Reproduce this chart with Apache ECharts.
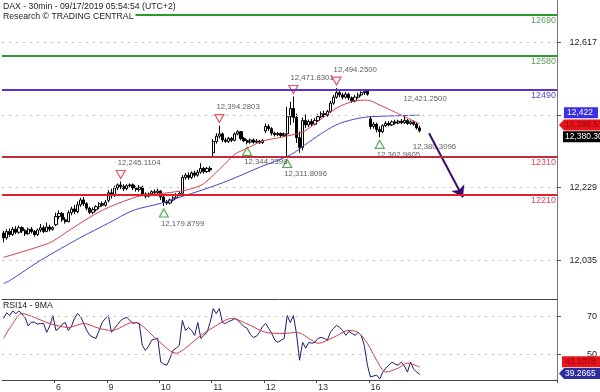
<!DOCTYPE html>
<html><head><meta charset="utf-8">
<script src="https://cdn.jsdelivr.net/npm/echarts@6/dist/echarts.min.js"></script>
<style>html,body{margin:0;padding:0;background:#fff}#c{width:600px;height:392px}</style>
</head><body><div id="c"></div>
<script>
const days = ['5','6','9','10','11','12','13','16'];
const futureDays = ['17','18','19'];
const barsPerDay = 17;
const totalSlots = 180;

// [open, close, low, high]
const candles = [
[12108,12095,12083,12114],[12095,12112,12090,12118],[12112,12104,12098,12120],[12104,12118,12100,12124],[12118,12110,12105,12126],[12110,12122,12106,12128],[12122,12114,12108,12126],[12114,12106,12100,12118],[12106,12118,12103,12122],[12118,12112,12107,12124],[12112,12104,12098,12116],[12104,12116,12100,12120],[12116,12122,12110,12132],[12122,12112,12108,12128],[12112,12124,12110,12136],[12124,12118,12112,12130],[12118,12122,12114,12126],
[12130,12152,12126,12162],[12152,12160,12145,12168],[12160,12143,12138,12164],[12143,12138,12133,12150],[12138,12162,12136,12168],[12162,12172,12155,12178],[12172,12165,12158,12182],[12165,12183,12160,12192],[12183,12196,12178,12202],[12196,12186,12180,12204],[12186,12174,12168,12190],[12174,12163,12158,12178],[12163,12170,12158,12176],[12170,12178,12165,12182],[12178,12186,12172,12190],[12186,12182,12178,12192],[12182,12190,12178,12196],
[12195,12215,12190,12222],[12215,12208,12200,12226],[12208,12228,12204,12234],[12228,12236,12222,12240],[12236,12232,12225,12245.1104],[12232,12226,12220,12238],[12226,12234,12222,12238],[12234,12236,12228,12240],[12236,12228,12222,12240],[12228,12224,12218,12232],[12224,12230,12218,12236],[12230,12212,12206,12234],[12212,12206,12200,12216],[12206,12212,12203,12216],[12212,12218,12208,12222],[12218,12216,12212,12224],[12216,12220,12212,12226],
[12220,12204,12196,12222],[12204,12190,12179.8799,12208],[12190,12188,12183,12196],[12188,12196,12184,12200],[12196,12202,12192,12206],[12202,12210,12198,12214],[12210,12214,12206,12218],[12214,12256,12212,12262],[12256,12262,12250,12268],[12262,12256,12250,12270],[12256,12268,12252,12272],[12268,12262,12256,12274],[12262,12270,12258,12276],[12270,12280,12266,12294],[12280,12272,12266,12284],[12272,12280,12268,12284],[12280,12276,12270,12286],
[12322,12352,12312,12358],[12352,12366,12346,12374],[12366,12372,12360,12394.2803],[12372,12356,12350,12376],[12356,12352,12348,12362],[12352,12360,12348,12364],[12360,12355,12350,12364],[12355,12372,12352,12376],[12372,12378,12368,12382],[12378,12360,12355,12380],[12360,12354,12350,12364],[12354,12350,12344.2398,12358],[12350,12356,12346,12360],[12356,12350,12346,12360],[12350,12353,12347,12358],[12353,12349,12345,12356],[12349,12354,12345,12358],
[12380,12392,12374,12400],[12392,12386,12380,12398],[12386,12374,12368,12390],[12374,12370,12365,12378],[12370,12373,12366,12377],[12373,12368,12363,12376],[12368,12372,12364,12376],[12372,12418,12311.8096,12444],[12418,12440,12396,12458],[12440,12416,12402,12471.8301],[12416,12362,12348,12426],[12362,12336,12322,12378],[12336,12408,12328,12416],[12408,12396,12388,12424],[12396,12405,12390,12410],[12405,12398,12393,12412],[12398,12408,12395,12414],
[12408,12418,12404,12424],[12418,12426,12414,12432],[12426,12422,12416,12434],[12422,12432,12418,12436],[12432,12454,12428,12460],[12454,12470,12450,12476],[12470,12482,12466,12494.25],[12482,12476,12470,12488],[12476,12470,12464,12482],[12470,12478,12466,12484],[12478,12468,12462,12482],[12468,12460,12455,12472],[12460,12470,12456,12476],[12470,12476,12466,12482],[12476,12482,12472,12486],[12482,12486,12476,12490],[12486,12478,12474,12490],
[12412,12392,12384,12420],[12392,12398,12386,12404],[12398,12384,12376,12402],[12384,12378,12362.9805,12392],[12378,12394,12374,12398],[12394,12400,12390,12406],[12400,12396,12392,12406],[12396,12404,12393,12408],[12404,12401,12397,12410],[12401,12406,12398,12410],[12406,12402,12398,12412],[12402,12408,12399,12421.25],[12408,12400,12396,12412],[12400,12404,12396,12408],[12404,12398,12394,12408],[12398,12388,12384,12402],[12388,12380.3096,12376,12394]
];

const fastMA = [[0,12043],[15,12082],[20,12108],[28,12150],[34,12176],[44,12206],[52,12214],[59,12222],[64,12235],[67,12254],[73,12302],[75,12318],[79,12334],[84,12353],[90,12363],[97,12377],[100,12393],[108,12441],[114,12460],[118,12462],[122,12449],[127,12430],[135,12398.5]];
const slowMA = [[0,11973],[2,11981],[12,12035],[25,12096],[34,12134],[42,12168],[51,12187],[57,12203],[65,12224],[73,12248],[83,12283],[93,12316],[99,12350],[104,12378],[109,12400],[116,12415],[122,12419],[135,12422]];

const rsi = [69,72,70.5,73,71.5,73,71,69.5,65,67,67,66,66.3,66.3,61.6,65,70.5,
62.6,63.7,65.8,66.8,62.6,64.7,69,71.6,70,66.3,62.6,60,59,58.4,62.6,66.8,69,
70.5,61.6,63.7,65.8,67.9,69,69.5,67.9,66.3,66.8,66.3,54.7,52,54.2,57.4,58,58.4,
45.8,44.7,44.2,47.9,52.1,53.2,54.7,67.9,62.6,64.2,62.6,60,66.8,58.4,60,61.6,66.8,
74.2,71.6,74.2,66.8,66.3,67.4,67.9,69,67.9,66.3,64.7,63.7,60.5,58.9,59.5,61.6,64.7,
66.3,63.7,61,57.4,56.3,57.4,58.4,70.5,66.8,70.5,61,46.8,56.3,53.2,56.3,55.8,56.3,
58.4,58.9,58.4,57.4,61.6,63.7,65.3,64.2,62.6,60,62.1,61,60,61.6,60,54.7,44.2,
37.9,38.4,38.9,36.8,40.5,42.6,44.2,45.8,44.7,44.2,45.8,43.7,40.5,45.8,42.1,40.5,39.2665];
const rsiMA = [[0,58.4],[3,66.3],[6,71.6],[10,69.5],[15,66.3],[21,64.2],[26,66.3],[31,63.7],[35,62.6],[42,66.8],[44,66.3],[50,57.4],[56,50.5],[59,53.2],[64,60],[68,64.2],[74,69],[80,65.3],[85,61.6],[91,61],[95,61.6],[100,57.4],[102,55.8],[107,58.9],[112,62.6],[115,61.6],[118,55.8],[121,46.8],[124,40.5],[128,42.6],[131,45.3],[135,43.1078]];

const levels = [12690,12580,12490,12310,12210];
const levelColors = ['#2a9a2a','#2a9a2a','#5a34d2','#c02a3c','#e0202c'];
const levelLabelColors = ['#5e9e5e','#5e9e5e','#5a48c8','#d24a5a','#d24a5a'];
const priceTicks = [12035,12229,12423,12617];
const priceLabels = [12035,12229,12617];
const rsiTicks = [50,70];
const swingHighs = [[38,12245.1104],[70,12394.2803],[94,12471.8301],[108,12494.25]];
const swingLows = [[52,12179.8799],[79,12344.2398],[92,12311.8096],[122,12362.9805]];
const noteHigh = [[130,12421.25]];
const noteClose = [[135,12380.3096]];
const arrowPath = [[138,12374],[149,12203]];
const lastFast = 12398.5117, lastSlow = 12422, lastClose = 12380.3096, lastRsi = 39.2665, lastRsiMA = 43.1078;

const FONT = 'Liberation Sans, Arial, sans-serif';
function fmt(v, dec){ const s = Number(v).toFixed(dec); const p = s.split('.'); return p[0].replace(/\B(?=(\d{3})+(?!\d))/g, ',') + (p[1] ? '.' + p[1] : ''); }

const cats = [];
days.concat(futureDays).forEach(d => { for (let b = 0; b < barsPerDay; b++) cats.push(b === 0 ? d : d + '_' + b); });
cats.length = totalSlots;
const lastCat = cats[totalSlots - 1];
const isDayStart = (idx) => idx > 0 && idx % barsPerDay === 0 && idx < candles.length;

function box(value, text, bg, fg, w, dx, dy, arrow, dist){
  return { coord: [lastCat, value], value: text,
    symbol: arrow ? 'path://M0,6 L6,0 L60,0 L60,12 L6,12 Z' : 'rect',
    symbolSize: [w, 11], symbolOffset: [dx, dy],
    itemStyle: { color: bg },
    label: { show: true, position: 'insideLeft', distance: dist, formatter: text, color: fg, fontSize: 8.5, fontFamily: FONT } };
}

const chart = echarts.init(document.getElementById('c'), null, { renderer: 'canvas' });
chart.setOption({
  animation: false,
  textStyle: { fontFamily: FONT },
  title: [
    { text: 'DAX - 30min - 09/17/2019 05:54:54 (UTC+2)', left: 1, top: 1, padding: [1, 2, 0, 2], backgroundColor: '#fff', textStyle: { fontSize: 8.7, fontWeight: 'normal', color: '#222', fontFamily: FONT } },
    { text: 'Research © TRADING CENTRAL', left: 1, top: 11, padding: [1, 2, 1, 2], backgroundColor: '#fff', textStyle: { fontSize: 8.7, fontWeight: 'normal', color: '#222', fontFamily: FONT } },
    { text: 'RSI14 - 9MA', left: 1, top: 300, padding: [1, 2, 0, 2], backgroundColor: '#fff', textStyle: { fontSize: 8.7, fontWeight: 'normal', color: '#222', fontFamily: FONT } }
  ],
  grid: [
    { left: 2, right: 43, top: 0, height: 299 },
    { left: 2, right: 43, top: 299, height: 81 }
  ],
  xAxis: [
    { gridIndex: 0, type: 'category', data: cats, boundaryGap: true,
      axisLine: { show: true, lineStyle: { color: '#444' } }, axisTick: { show: false }, axisLabel: { show: false }, splitLine: { show: false } },
    { gridIndex: 1, type: 'category', data: cats, boundaryGap: true,
      axisLine: { show: true, lineStyle: { color: '#444' } },
      axisTick: { show: true, interval: (i) => isDayStart(i), length: 3, lineStyle: { color: '#444' } },
      axisLabel: { show: true, interval: (i) => isDayStart(i), formatter: (v) => v.split('_')[0], align: 'left', margin: 3, fontSize: 9, color: '#333', fontFamily: FONT },
      splitLine: { show: false } }
  ],
  yAxis: [
    { gridIndex: 0, type: 'value', position: 'right', min: 11932, max: 12729,
      axisLine: { show: true, lineStyle: { color: '#777' } },
      axisTick: { show: true, length: 4, customValues: priceTicks, lineStyle: { color: '#555' } },
      axisLabel: { show: true, customValues: priceLabels, formatter: (v) => fmt(v, 0), align: 'right', margin: 40, fontSize: 9, color: '#222', fontFamily: FONT },
      splitLine: { show: false } },
    { gridIndex: 1, type: 'value', position: 'right', min: 36.3, max: 79.3,
      axisLine: { show: true, lineStyle: { color: '#777' } },
      axisTick: { show: true, length: 4, customValues: rsiTicks, lineStyle: { color: '#555' } },
      axisLabel: { show: true, customValues: rsiTicks, align: 'right', margin: 40, fontSize: 9, color: '#222', fontFamily: FONT },
      splitLine: { show: false } }
  ],
  series: [
    { name: 'slowMA', type: 'line', xAxisIndex: 0, yAxisIndex: 0, data: slowMA, symbol: 'none', smooth: 0.3,
      lineStyle: { color: '#4646cc', width: 1 },
      markLine: { silent: true, symbol: ['none', 'none'],
        data: priceTicks.map(v => ({ yAxis: v, lineStyle: { color: '#c4c4c4', type: [2, 5], width: 1 }, label: { show: false } })) },
      markPoint: { silent: true, data: [ box(lastSlow, fmt(lastSlow, 0), '#3a2ee6', '#fff', 34, 25.5, -2.5, false, 3) ] } },
    { name: 'fastMA', type: 'line', xAxisIndex: 0, yAxisIndex: 0, data: fastMA, symbol: 'none', smooth: 0.3,
      lineStyle: { color: '#d0404a', width: 1 },
      markLine: { silent: true, symbol: ['none', 'arrow'], symbolSize: 11,
        data: [[ { coord: [cats[arrowPath[0][0]], arrowPath[0][1]] }, { coord: [cats[arrowPath[1][0]], arrowPath[1][1]] } ]],
        lineStyle: { color: '#3e0c70', width: 2, type: 'solid' }, label: { show: false } },
      markPoint: { silent: true, data: [ box(lastFast, fmt(lastFast, 4), '#e8141c', '#900010', 51, 29, 1, true, 6) ] } },
    { name: 'DAX', type: 'candlestick', xAxisIndex: 0, yAxisIndex: 0, data: candles, barWidth: 2.6,
      itemStyle: { color: '#fff', color0: '#000', borderColor: '#000', borderColor0: '#000', borderWidth: 1 },
      markLine: { silent: true, symbol: ['none', 'none'],
        data: levels.map((v, k) => ({ yAxis: v, lineStyle: { color: levelColors[k], width: 2, type: 'solid' },
          label: { show: true, position: 'insideEndBottom', distance: 1, formatter: String(v), color: levelLabelColors[k], fontSize: 9, fontFamily: FONT } })) },
      markPoint: { silent: true, data: [ box(lastClose, fmt(lastClose, 4), '#000', '#fff', 47, 31, 6, false, 2) ] } },
    { name: 'highs', type: 'scatter', xAxisIndex: 0, yAxisIndex: 0, data: swingHighs,
      symbol: 'path://M0,0 L10,0 L5,9 Z', symbolSize: [9, 8], symbolOffset: [0, -7],
      itemStyle: { color: '#fff', borderColor: '#e0303a', borderWidth: 1.2 },
      label: { show: true, position: 'top', distance: 3, align: 'left', offset: [-3, 0], formatter: (p) => fmt(p.value[1], 4), fontSize: 7.8, color: '#333', fontFamily: FONT } },
    { name: 'lows', type: 'scatter', xAxisIndex: 0, yAxisIndex: 0, data: swingLows,
      symbol: 'path://M5,0 L10,9 L0,9 Z', symbolSize: [9, 8], symbolOffset: [0, 7],
      itemStyle: { color: '#fff', borderColor: '#2a9a2a', borderWidth: 1.2 },
      label: { show: true, position: 'bottom', distance: 2, align: 'left', offset: [-3, 0], formatter: (p) => fmt(p.value[1], 4), fontSize: 7.8, color: '#333', fontFamily: FONT } },
    { name: 'noteHigh', type: 'scatter', xAxisIndex: 0, yAxisIndex: 0, data: noteHigh, symbolSize: 1, itemStyle: { color: 'rgba(0,0,0,0)' },
      label: { show: true, position: 'top', distance: 12, align: 'left', offset: [-1, 0], formatter: (p) => fmt(p.value[1], 4), fontSize: 7.8, color: '#333', fontFamily: FONT } },
    { name: 'noteClose', type: 'scatter', xAxisIndex: 0, yAxisIndex: 0, data: noteClose, symbolSize: 1, itemStyle: { color: 'rgba(0,0,0,0)' },
      label: { show: true, position: 'bottom', distance: 12, align: 'left', offset: [-7, 0], formatter: (p) => fmt(p.value[1], 4), fontSize: 7.8, color: '#333', fontFamily: FONT } },
    { name: 'RSI', type: 'line', xAxisIndex: 1, yAxisIndex: 1, data: rsi, symbol: 'none',
      lineStyle: { color: '#1c1c72', width: 1 },
      markLine: { silent: true, symbol: ['none', 'none'],
        data: rsiTicks.map(v => ({ yAxis: v, lineStyle: { color: '#c4c4c4', type: [2, 5], width: 1 }, label: { show: false } })) },
      markPoint: { silent: true, data: [ box(lastRsi, fmt(lastRsi, 4), '#2e2e9c', '#fff', 51, 29, -1, true, 6) ] } },
    { name: 'RSI MA', type: 'line', xAxisIndex: 1, yAxisIndex: 1, data: rsiMA, symbol: 'none', smooth: 0.3,
      lineStyle: { color: '#d03a4a', width: 1 },
      markPoint: { silent: true, data: [ box(lastRsiMA, fmt(lastRsiMA, 4), '#e8141c', '#900010', 48, 30.5, -5.5, false, 3) ] } }
  ]
});
</script></body></html>
